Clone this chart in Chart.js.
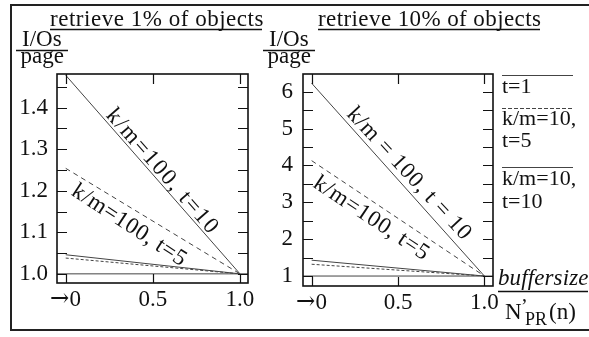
<!DOCTYPE html>
<html>
<head>
<meta charset="utf-8">
<script src="https://cdn.jsdelivr.net/npm/chart.js@4.4.1/dist/chart.umd.min.js"></script>
<style>
    @font-face { font-family: 'ArrowSerif'; src: local('DejaVu Serif'), local('DejaVuSerif'); unicode-range: U+2190-21FF; }
    html, body { margin: 0; padding: 0; background: #fff; }
    body { width: 589px; height: 337px; position: relative; overflow: hidden;
           font-family: 'Liberation Serif', 'Times New Roman', serif; color: #111; }
    canvas { position: absolute; top: 0; }
    #frame { position: absolute; left: 10px; top: 4px; width: 600px; height: 323px; border: 2px solid #222; }
    .t { position: absolute; white-space: nowrap; line-height: 1; }
    svg { position: absolute; left: 0; top: 0; }
</style>
</head>
<body>
<div id="frame"></div>
<canvas id="leftChart" width="290" height="337" style="left:0"></canvas>
<canvas id="rightChart" width="339" height="337" style="left:250px"></canvas>
<svg width="589" height="337">
    <g stroke="#111" stroke-width="1.3">
        <line x1="50" y1="29.5" x2="262" y2="29.5"/>
        <line x1="318" y1="29.5" x2="540" y2="29.5"/>
        <line x1="16" y1="50.5" x2="68" y2="50.5"/>
        <line x1="263" y1="50.5" x2="315" y2="50.5"/>
        <line x1="498" y1="291.5" x2="588" y2="291.5"/>
    </g>
    <g stroke="#444" stroke-width="1.1">
        <line x1="502" y1="75.5" x2="573" y2="75.5"/>
        <line x1="502" y1="108.5" x2="573" y2="108.5" stroke-dasharray="4 2"/>
        <line x1="502" y1="167.5" x2="573" y2="167.5"/>
    </g>
</svg>
<div id="texts"></div>
<script>
// x axis (same for both panels)
const xEnds = [0, 1];
const xTickValues = [0, 0.5, 1];
const xTickLabels = ['→0', '0.5', '1.0'];
const xRangeLeft = [-0.05, 1.046];
const xRangeRight = [-0.05, 1.05];

// left panel: retrieve 1% of objects
const leftYTicks = [1.0, 1.05, 1.1, 1.15, 1.2, 1.25, 1.3, 1.35, 1.4, 1.45];
const leftYLabels = ['1.0', '', '1.1', '', '1.2', '', '1.3', '', '1.4', ''];
const leftYRange = [0.978, 1.481];
const leftT1 = [1.0, 1.0];
const leftKm100T10 = [1.478, 1.0];
const leftKm100T5 = [1.254, 1.0];
const leftKm10T10 = [1.046, 1.0];
const leftKm10T5 = [1.038, 1.0];

// right panel: retrieve 10% of objects
const rightYTicks = [1, 1.5, 2, 2.5, 3, 3.5, 4, 4.5, 5, 5.5, 6];
const rightYLabels = ['1', '', '2', '', '3', '', '4', '', '5', '', '6'];
const rightYRange = [0.73, 6.48];
const rightT1 = [1.0, 1.0];
const rightKm100T10 = [6.23, 1.0];
const rightKm100T5 = [4.13, 1.0];
const rightKm10T10 = [1.43, 1.0];
const rightKm10T5 = [1.32, 1.0];

const serif = "'Liberation Serif', 'Times New Roman', serif";
const tickFamily = "'ArrowSerif', " + serif;
const lineColor = '#444';

function pts(xs, ys) {
    return xs.map((x, i) => ({ x: x, y: ys[i] }));
}

// box with inner ticks + labels written along the lines
const boxPlugin = {
    id: 'box',
    afterDatasetsDraw(chart, args, opts) {
        const ctx = chart.ctx;
        const a = chart.chartArea;
        const x = chart.scales.x, y = chart.scales.y;
        ctx.save();
        ctx.strokeStyle = '#111';
        ctx.lineWidth = 1.2;
        ctx.beginPath();
        y.ticks.forEach(t => {
            const py = Math.round(y.getPixelForValue(t.value)) + 0.5;
            ctx.moveTo(a.left, py); ctx.lineTo(a.left + 10, py);
            ctx.moveTo(a.right, py); ctx.lineTo(a.right - 10, py);
        });
        x.ticks.forEach(t => {
            const px = Math.round(x.getPixelForValue(t.value)) + 0.5;
            ctx.moveTo(px, a.bottom); ctx.lineTo(px, a.bottom - 9);
            ctx.moveTo(px, a.top); ctx.lineTo(px, a.top + 10);
        });
        ctx.stroke();
        ctx.lineWidth = 1.6;
        ctx.strokeRect(a.left, a.top, a.right - a.left, a.bottom - a.top);

        ctx.fillStyle = '#111';
        ctx.font = '23px ' + serif;
        ctx.textBaseline = 'middle';
        (opts.labels || []).forEach(l => {
            const d = chart.getDatasetMeta(l.ds).data;
            const p0 = d[0], p1 = d[1];
            const ang = Math.atan2(p1.y - p0.y, p1.x - p0.x);
            const cx = p0.x + l.at * (p1.x - p0.x) + l.off * Math.sin(ang);
            const cy = p0.y + l.at * (p1.y - p0.y) - l.off * Math.cos(ang);
            const chars = [...l.text];
            const w = chars.reduce((s, c) => s + ctx.measureText(c).width, 0);
            const gap = (l.len - w) / (chars.length - 1);
            ctx.save();
            ctx.translate(cx, cy);
            ctx.rotate(ang + (l.turn || 0) * Math.PI / 180);
            let pos = -l.len / 2;
            chars.forEach(c => {
                ctx.fillText(c, pos, 0);
                pos += ctx.measureText(c).width + gap;
            });
            ctx.restore();
        });
        ctx.restore();
    }
};

function makeChart(id, cfg) {
    const lineDs = (data, dash) => ({
        data: data, borderColor: lineColor, borderWidth: 1, borderDash: dash,
        pointRadius: 0, tension: 0, fill: false
    });
    return new Chart(document.getElementById(id), {
        type: 'line',
        data: {
            datasets: [
                lineDs(pts(cfg.xRange, cfg.t1), []),
                lineDs(pts(xEnds, cfg.k100t10), []),
                lineDs(pts(xEnds, cfg.k100t5), [5, 4]),
                lineDs(pts(xEnds, cfg.k10t10), []),
                lineDs(pts(xEnds, cfg.k10t5), [3, 2])
            ]
        },
        options: {
            responsive: false,
            animation: false,
            events: [],
            layout: { padding: cfg.padding },
            plugins: {
                legend: { display: false },
                tooltip: { enabled: false },
                box: { labels: cfg.labels }
            },
            scales: {
                x: {
                    type: 'linear',
                    min: cfg.xRange[0], max: cfg.xRange[1],
                    afterBuildTicks: s => { s.ticks = xTickValues.map(v => ({ value: v })); },
                    afterFit: s => { s.height = 40; },
                    grid: { display: false, drawTicks: false },
                    border: { display: false },
                    ticks: {
                        callback: (v, i) => xTickLabels[i],
                        autoSkip: false, maxRotation: 0, padding: 3,
                        color: '#111', font: { family: tickFamily, size: 23 }
                    }
                },
                y: {
                    min: cfg.yRange[0], max: cfg.yRange[1],
                    afterBuildTicks: s => { s.ticks = cfg.yTicks.map(v => ({ value: v })); },
                    afterFit: s => { s.width = cfg.yWidth; },
                    grid: { display: false, drawTicks: false },
                    border: { display: false },
                    ticks: {
                        callback: (v, i) => cfg.yLabels[i],
                        autoSkip: false, padding: cfg.yPad,
                        color: '#111', font: { family: serif, size: 23 }
                    }
                }
            }
        },
        plugins: [boxPlugin]
    });
}

function drawCharts() {
    makeChart('leftChart', {
        xRange: xRangeLeft, yRange: leftYRange, yTicks: leftYTicks, yLabels: leftYLabels,
        t1: leftT1, k100t10: leftKm100T10, k100t5: leftKm100T5, k10t10: leftKm10T10, k10t5: leftKm10T5,
        padding: { left: 0, top: 74, right: 42, bottom: 14 }, yWidth: 57, yPad: 9,
        labels: [
            { ds: 1, at: 0.513, off: 9, text: 'k/m=100, t=10', len: 158 },
            { ds: 2, at: 0.41, off: -16, text: 'k/m=100, t=5', len: 132, turn: 2 }
        ]
    });

    makeChart('rightChart', {
        xRange: xRangeRight, yRange: rightYRange, yTicks: rightYTicks, yLabels: rightYLabels,
        t1: rightT1, k100t10: rightKm100T10, k100t5: rightKm100T5, k10t10: rightKm10T10, k10t5: rightKm10T5,
        padding: { left: 0, top: 74, right: 96, bottom: 11 }, yWidth: 53, yPad: 10,
        labels: [
            { ds: 1, at: 0.511, off: 12, text: 'k/m = 100, t = 10', len: 172, turn: -1 },
            { ds: 2, at: 0.392, off: -15, text: 'k/m=100, t=5', len: 134 }
        ]
    });
}

// the arrow in "→0" comes from DejaVu, wait for it before drawing
document.fonts.load('23px ArrowSerif', '→').then(drawCharts, drawCharts);

// plain text around the charts, placed by baseline
const holder = document.getElementById('texts');
function place(text, x, base, size, o) {
    o = o || {};
    const s = document.createElement('span');
    s.className = 't';
    s.textContent = text;
    s.style.fontSize = size + 'px';
    if (o.italic) s.style.fontStyle = 'italic';
    holder.appendChild(s);
    if (o.width) {
        const n = [...text].length;
        s.style.letterSpacing = ((o.width - s.offsetWidth) / (n - 1)) + 'px';
    }
    let left = x;
    if (o.center) left = x - s.offsetWidth / 2;
    s.style.left = left + 'px';
    s.style.top = (base - 0.8375 * size) + 'px';
}

place('retrieve 1% of objects', 50, 26, 23, { width: 213 });
place('retrieve 10% of objects', 318, 26, 23, { width: 223 });
place('I/Os', 42, 46.5, 23, { center: true });
place('page', 42, 63.5, 23, { center: true });
place('I/Os', 289, 46.5, 23, { center: true });
place('page', 289, 63.5, 23, { center: true });

place('t=1', 502, 93, 22);
place('k/m=10,', 502, 125, 22);
place('t=5', 502, 147, 22);
place('k/m=10,', 502, 185, 22);
place('t=10', 502, 208, 22);

place('buffersize', 498, 285, 23, { italic: true, width: 90 });
place('N', 505, 319, 23);
place('\u2019', 521, 313, 20);
place('PR', 525, 325, 18);
place('(n)', 549, 319, 23);
</script>
</body>
</html>
